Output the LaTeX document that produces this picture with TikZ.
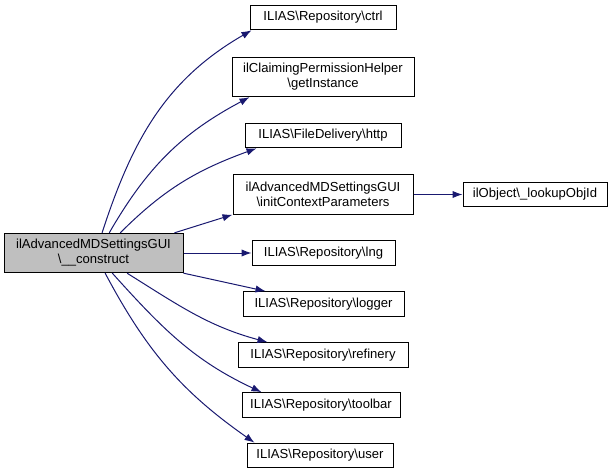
\documentclass[tikz,border=0pt]{standalone}
\usepackage{fontspec}
\setmainfont{Liberation Sans}
\usepackage{xcolor}
\usepackage{tikz}
\usetikzlibrary{arrows.meta, positioning}
\definecolor{edgeblue}{HTML}{191970}
\definecolor{curgray}{HTML}{BFBFBF}

\begin{document}
\begin{tikzpicture}[x=0.75pt, y=-0.75pt,
  every node/.style={font=\fontsize{9.8pt}{11.3pt}\selectfont},
  fn/.style={draw, rectangle, line width=0.75pt, inner sep=0pt, align=center, minimum height=18.5pt},
  fn2/.style={fn, minimum height=29.5pt},
  call/.style={-{Latex[length=7.5pt, width=5.5pt]}, edgeblue, line width=0.75pt}]
\useasboundingbox (0,0) rectangle (615,475);
\node[fn2, fill=curgray, minimum width=134.25pt] (main) at (93.5,253) {ilAdvancedMDSettingsGUI\\\textbackslash\_\_construct};
\node[fn, minimum width=109.5pt] (ctrl) at (323,17.5) {ILIAS\textbackslash Repository\textbackslash ctrl};
\node[fn2, minimum width=136.5pt] (inst) at (323,77) {ilClaimingPermissionHelper\\\textbackslash getInstance};
\node[fn, minimum width=117pt] (http) at (323,135.5) {ILIAS\textbackslash FileDelivery\textbackslash http};
\node[fn2, minimum width=135pt] (ctx) at (323,194.5) {ilAdvancedMDSettingsGUI\\\textbackslash initContextParameters};
\node[fn, minimum width=108pt] (lookup) at (535,194.5) {ilObject\textbackslash\_lookupObjId};
\node[fn, minimum width=107.25pt] (lng) at (323.5,253) {ILIAS\textbackslash Repository\textbackslash lng};
\node[fn, minimum width=120.75pt] (logger) at (323.5,304) {ILIAS\textbackslash Repository\textbackslash logger};
\node[fn, minimum width=127.5pt] (refin) at (323,355) {ILIAS\textbackslash Repository\textbackslash refinery};
\node[fn, minimum width=118.5pt] (toolbar) at (321,405) {ILIAS\textbackslash Repository\textbackslash toolbar};
\node[fn, minimum width=109.5pt] (user) at (320,455.5) {ILIAS\textbackslash Repository\textbackslash user};

% calls from the constructor
\draw[call] (main.67) to[out=72, in=210] ([xshift=1.5pt]ctrl.south west);
\draw[call] (main.52) to[out=60, in=208] ([xshift=13.5pt]inst.south west);
\draw[call] (main.37) to[out=45, in=200] ([xshift=9pt]http.south west);
\draw[call] (main.14) -- (ctx.south west);
\draw[call] (main.east) -- (lng.west);
\draw[call] (main.south east) -- ([xshift=17.25pt]logger.north west);
\draw[call] (main.-31) to[out=-32, in=165] ([xshift=22.5pt]refin.north west);
\draw[call] (main.-47) to[out=-48, in=155] ([xshift=15pt]toolbar.north west);
\draw[call] (main.-60) to[out=-62, in=145] ([xshift=6pt]user.north west);
\draw[call] (ctx.east) -- (lookup.west);
\end{tikzpicture}
\end{document}
